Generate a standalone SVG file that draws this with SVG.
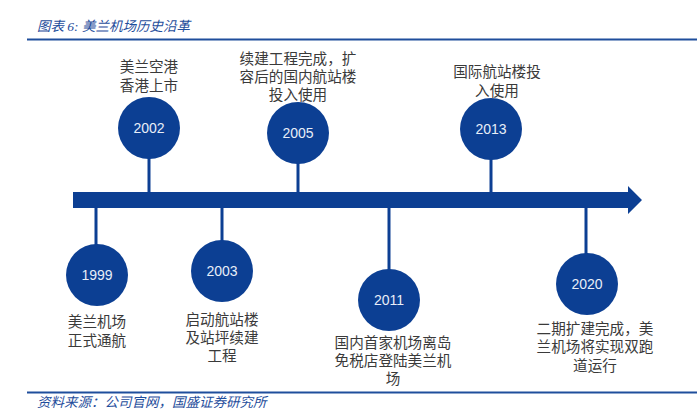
<svg xmlns="http://www.w3.org/2000/svg" width="697" height="413" viewBox="0 0 697 413">
<style>
.cap{font-family:"Liberation Serif","Noto Sans CJK SC",serif;font-style:italic;fill:#1f4e9c;font-size:13.5px}
.lbl{font-family:"Liberation Sans","Noto Sans CJK SC",sans-serif;font-size:14.6px;fill:#3a3a3a;text-anchor:middle}
.yr{font-family:"Liberation Sans","Noto Sans CJK SC",sans-serif;font-size:14px;fill:#e8eef8;text-anchor:middle}
.dot{fill:#0c3f93}
.stem{stroke:#0c3f93;stroke-width:3}
</style>
<rect width="697" height="413" fill="#fff"/>
<text class="cap" x="37" y="31">图表 6: 美兰机场历史沿革</text>
<line x1="27" y1="39.5" x2="697" y2="39.5" stroke="#1f4e9c" stroke-width="2"/>
<line x1="27" y1="392.5" x2="697" y2="392.5" stroke="#1f4e9c" stroke-width="2"/>
<text class="cap" x="37" y="407">资料来源：公司官网，国盛证券研究所</text>
<g id="connectors">
<polygon class="dot" points="73,192 628,192 628,186 642,200 628,214 628,208 73,208"/>
<line class="stem" x1="149" y1="150" x2="149" y2="193"/>
<line class="stem" x1="298" y1="155" x2="298" y2="193"/>
<line class="stem" x1="491" y1="150" x2="491" y2="193"/>
<line class="stem" x1="96" y1="207" x2="96" y2="250"/>
<line class="stem" x1="222" y1="207" x2="222" y2="245"/>
<line class="stem" x1="389" y1="207" x2="389" y2="275"/>
<line class="stem" x1="586" y1="207" x2="586" y2="260"/>
</g>
<g id="n2002"><circle class="dot" cx="149" cy="128" r="31"/><text class="yr" x="149" y="133">2002</text>
<text class="lbl" x="149" y="72">美兰空港</text><text class="lbl" x="149" y="91">香港上市</text></g>
<g id="n2005"><circle class="dot" cx="298" cy="133" r="31"/><text class="yr" x="298" y="138">2005</text>
<text class="lbl" x="298" y="64">续建工程完成，扩</text><text class="lbl" x="298" y="82">容后的国内航站楼</text><text class="lbl" x="298" y="100">投入使用</text></g>
<g id="n2013"><circle class="dot" cx="491" cy="129" r="31"/><text class="yr" x="491" y="134">2013</text>
<text class="lbl" x="497" y="77">国际航站楼投</text><text class="lbl" x="497" y="96">入使用</text></g>
<g id="n1999"><circle class="dot" cx="97" cy="275" r="31"/><text class="yr" x="97" y="280">1999</text>
<text class="lbl" x="97" y="327">美兰机场</text><text class="lbl" x="97" y="346">正式通航</text></g>
<g id="n2003"><circle class="dot" cx="222" cy="271" r="31"/><text class="yr" x="222" y="276">2003</text>
<text class="lbl" x="222" y="325">启动航站楼</text><text class="lbl" x="222" y="343">及站坪续建</text><text class="lbl" x="222" y="361">工程</text></g>
<g id="n2011"><circle class="dot" cx="389" cy="300" r="31"/><text class="yr" x="389" y="305">2011</text>
<text class="lbl" x="393" y="348">国内首家机场离岛</text><text class="lbl" x="393" y="366">免税店登陆美兰机</text><text class="lbl" x="393" y="384">场</text></g>
<g id="n2020"><circle class="dot" cx="587" cy="284" r="31"/><text class="yr" x="587" y="289">2020</text>
<text class="lbl" x="595" y="334">二期扩建完成，美</text><text class="lbl" x="595" y="352">兰机场将实现双跑</text><text class="lbl" x="595" y="371">道运行</text></g>
</svg>
